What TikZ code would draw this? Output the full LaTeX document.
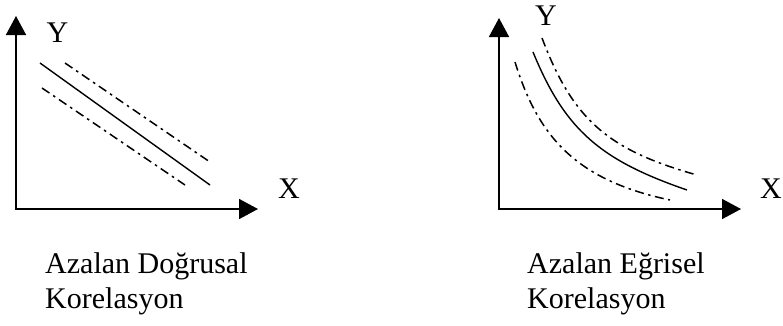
\documentclass[tikz,border=0pt]{standalone}
\usepackage{fontspec}
\setmainfont{Liberation Serif}
\usetikzlibrary{arrows.meta}

\begin{document}
\begin{tikzpicture}[x=1pt, y=-1pt,
    axis/.style={line width=1.6pt, -{Triangle[length=19pt, width=20pt]}},
    fitline/.style={line width=1.4pt},
    band/.style={line width=1.5pt, dash pattern=on 9pt off 4.5pt on 2.5pt off 4.5pt},
    lbl/.style={inner sep=0pt, font=\fontsize{30}{35}\selectfont}]
  \useasboundingbox (0,0) rectangle (783,325);

  % linear (left)
  \coordinate (o1) at (16,209.8);
  \coordinate (y1) at (16,16);
  \coordinate (x1) at (258,209);
  \draw[axis] (o1) -- (y1);
  \draw[axis] (15.2,209) -- (x1);
  \node[lbl, anchor=base] (ylab1) at (57.5,42) {Y};
  \node[lbl, anchor=base west] (xlab1) at (278,198) {X};

  \draw[fitline] (40,63) -- (210,185);
  \draw[band] (65,63) -- (210,162);
  \draw[band] (42,88) -- (185,185);

  \node[lbl, anchor=base west, align=left] (cap1) at (45,308) {Azalan Doğrusal\\Korelasyon};

  % curved (right)
  \coordinate (o2) at (499,209.8);
  \coordinate (y2) at (499,18);
  \coordinate (x2) at (741,209);
  \draw[axis] (o2) -- (y2);
  \draw[axis] (498.2,209) -- (x2);
  \node[lbl, anchor=base] (ylab2) at (546,25) {Y};
  \node[lbl, anchor=base west] (xlab2) at (760,198) {X};

  \draw[fitline] (533,52) .. controls (565,130) and (600,160) .. (687,190);
  \draw[band] (542,38) .. controls (573,120) and (608,150) .. (697,175);
  \draw[band] (515,62) .. controls (538,136) and (575,180) .. (670,200);

  \node[lbl, anchor=base west, align=left] (cap2) at (527,308) {Azalan Eğrisel\\Korelasyon};
\end{tikzpicture}
\end{document}
